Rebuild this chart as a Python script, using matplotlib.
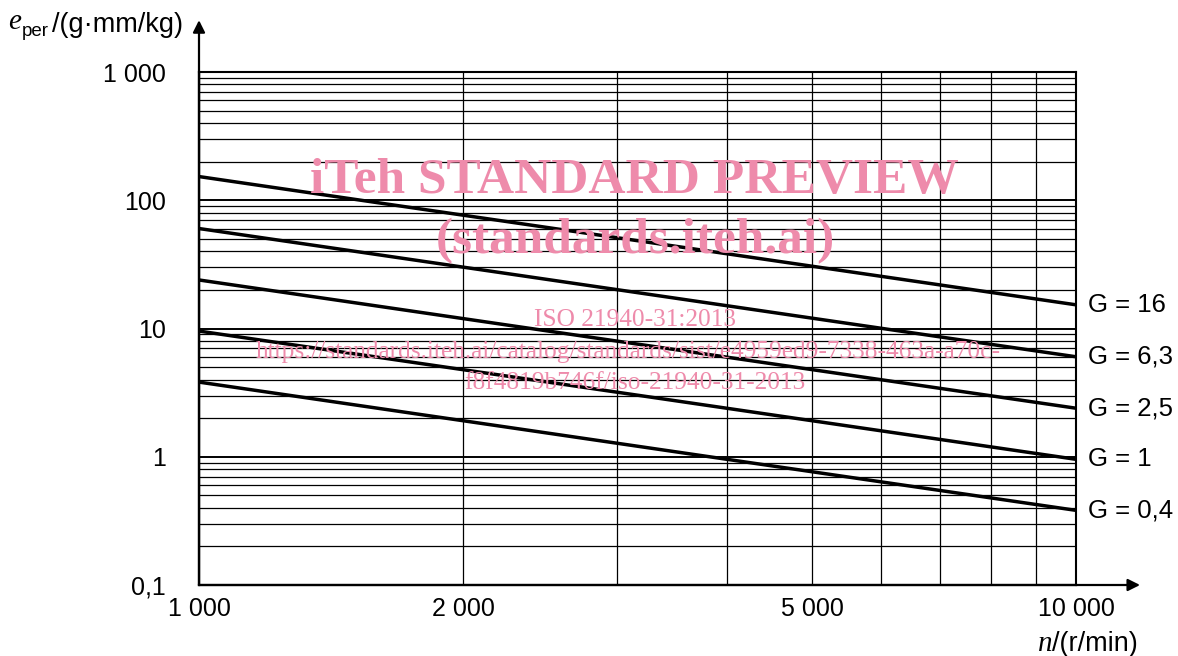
import numpy as np
import matplotlib
matplotlib.use("Agg")
import matplotlib.pyplot as plt
from matplotlib.lines import Line2D

# data: e_per at n = 1 000 and n = 10 000 for each grade
n_ends = [1000, 10000]
grades = ["16", "6,3", "2,5", "1", "0,4"]
e_at_1000 = [153, 60.2, 23.9, 9.55, 3.82]
e_at_10000 = [15.3, 6.02, 2.39, 0.955, 0.382]

x_major = [1000, 2000, 5000, 10000]
x_major_labels = ["1 000", "2 000", "5 000", "10 000"]
x_minor = [3000, 4000, 6000, 7000, 8000, 9000]
y_major = [0.1, 1, 10, 100, 1000]
y_major_labels = ["0,1", "1", "10", "100", "1 000"]

plt.rcParams['font.family'] = ['Liberation Sans', 'DejaVu Sans']
pink = '#ee8bab'

W, H = 1178, 656
fig = plt.figure(figsize=(W / 100, H / 100), dpi=100)
ax = fig.add_axes([199 / W, 1 - 585 / H, (1076 - 199) / W, (585 - 72) / H])
ax.set_xscale('log')
ax.set_yscale('log')
ax.set_xlim(1000, 10000)
ax.set_ylim(0.1, 1000)

ax.set_xticks(x_major)
ax.set_xticklabels(x_major_labels)
ax.set_xticks(x_minor, minor=True)
ax.xaxis.set_minor_formatter(plt.NullFormatter())
ax.set_yticks(y_major)
ax.set_yticklabels(y_major_labels)
y_minor = [d * k for d in y_major[:-1] for k in range(2, 10)]
ax.set_yticks(y_minor, minor=True)
ax.yaxis.set_minor_formatter(plt.NullFormatter())

ax.tick_params(axis='both', which='both', length=0, labelsize=18)
ax.tick_params(axis='y', pad=24)
ax.tick_params(axis='x', pad=9)

ax.grid(True, axis='x', which='both', color='black', linewidth=0.9)
ax.grid(True, axis='y', which='minor', color='black', linewidth=0.9)
ax.grid(True, axis='y', which='major', color='black', linewidth=1.4)
ax.set_axisbelow(True)

for s in ['left', 'bottom']:
    ax.spines[s].set_linewidth(1.6)
for s in ['top', 'right']:
    ax.spines[s].set_linewidth(1.5)

for g, e0, e1 in zip(grades, e_at_1000, e_at_10000):
    ax.plot(n_ends, [e0, e1], color='black', linewidth=2.5, solid_capstyle='butt', zorder=3)
    ax.annotate("G = " + g, xy=(n_ends[-1], e1), xytext=(8.5, 0), textcoords='offset points',
                va='center', ha='left', fontsize=18.5, annotation_clip=False)

# axis arrows
ax.annotate('', xy=(0, 1.101), xytext=(0, 0), xycoords='axes fraction',
            arrowprops=dict(arrowstyle='-|>', color='black', lw=1.6,
                            mutation_scale=18, shrinkA=0, shrinkB=0), annotation_clip=False)
ax.annotate('', xy=(1.073, 0), xytext=(0, 0), xycoords='axes fraction',
            arrowprops=dict(arrowstyle='-|>', color='black', lw=1.6,
                            mutation_scale=18, shrinkA=0, shrinkB=0), annotation_clip=False)

# axis titles
fig.text(8 / W, 1 - 29 / H, 'e', fontfamily='Liberation Serif', style='italic', fontsize=21)
fig.text(22 / W, 1 - 36 / H, 'per', fontsize=13.5)
fig.text(52 / W, 1 - 32 / H, '/(g·mm/kg)', fontsize=19.5)
fig.text(1038 / W, 1 - 651 / H, 'n', fontfamily='Liberation Serif', style='italic', fontsize=21)
fig.text(1052 / W, 1 - 651 / H, '/(r/min)', fontsize=19.5)

# watermark
wm = dict(ha='center', va='center', color=pink, fontfamily='Liberation Serif', zorder=0)
fig.text(634 / W, 1 - 181 / H, 'iTeh STANDARD PREVIEW', fontsize=37, fontweight='bold', **wm)
fig.text(635 / W, 1 - 241 / H, '(standards.iteh.ai)', fontsize=37, fontweight='bold', **wm)
fig.text(635 / W, 1 - 320 / H, 'ISO 21940-31:2013', fontsize=18.3, **wm)
fig.add_artist(Line2D([533 / W, 737 / W], [1 - 332 / H, 1 - 332 / H], color=pink, lw=1.0, zorder=0))
fig.text(628 / W, 1 - 352 / H,
         'https://standards.iteh.ai/catalog/standards/sist/e4959ed9-7338-463a-a70c-',
         fontsize=18.3, **wm)
fig.text(635 / W, 1 - 383 / H, 'f8f4819b746f/iso-21940-31-2013', fontsize=18.3, **wm)

fig.savefig('out.png', dpi=100)
